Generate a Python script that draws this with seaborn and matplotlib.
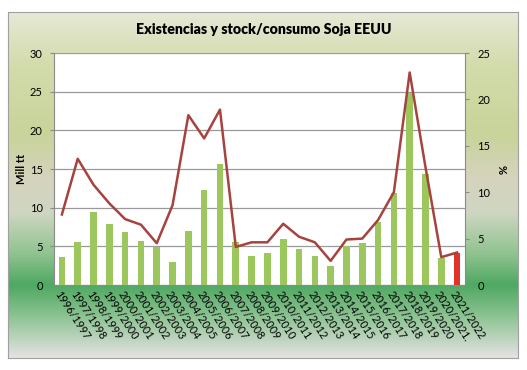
import matplotlib
matplotlib.use("Agg")
import matplotlib.pyplot as plt
from matplotlib.colors import LinearSegmentedColormap
import numpy as np
import pandas as pd
import seaborn as sns

campanas = ["1996/1997", "1997/1998", "1998/1999", "1999/2000", "2000/2001",
            "2001/2002", "2002/2003", "2003/2004", "2004/2005", "2005/2006",
            "2006/2007", "2007/2008", "2008/2009", "2009/2010", "2010/2011",
            "2011/2012", "2012/2013", "2013/2014", "2014/2015", "2015/2016",
            "2016/2017", "2017/2018", "2018/2019", "2019/2020", "2020/2021.",
            "2021/2022"]
existencias = [3.6, 5.5, 9.5, 7.9, 6.8, 5.7, 4.9, 3.0, 7.0, 12.3, 15.7, 5.6, 3.7,
               4.1, 5.9, 4.6, 3.8, 2.5, 5.1, 5.4, 8.2, 11.9, 24.8, 14.4, 3.5, 4.1]
stock_consumo = [7.6, 13.6, 10.8, 8.8, 7.1, 6.5, 4.5, 8.6, 18.3, 15.8, 18.9, 4.1,
                 4.6, 4.6, 6.6, 5.2, 4.6, 2.6, 4.9, 5.0, 7.0, 10.0, 22.9, 12.7,
                 3.0, 3.5]

plt.rcParams["font.family"] = ["Lato", "DejaVu Sans"]

df = pd.DataFrame({"campana": campanas, "existencias": existencias,
                   "ratio": stock_consumo})
colores = ["#9cc75c"] * (len(campanas) - 1) + ["#e0332a"]

fig = plt.figure(figsize=(5.27, 3.70), dpi=100)

# fondo degradado del grafico
bg = fig.add_axes([8 / 527, 1 - 358 / 370, 510 / 527, 346 / 370])
cmap = LinearSegmentedColormap.from_list("fondo", [
    (0.0, "#e6e9d6"), (0.15, "#d3dcac"), (0.35, "#c8d49a"), (0.48, "#d6d3bd"),
    (0.58, "#cfd6c2"), (0.70, "#8fc38f"), (0.79, "#4ea862"), (0.88, "#8cc392"),
    (1.0, "#e4e2e2")])
bg.imshow(np.linspace(0, 1, 256).reshape(-1, 1), aspect="auto", cmap=cmap,
          extent=[0, 1, 0, 1])
bg.set_xticks([])
bg.set_yticks([])
for s in bg.spines.values():
    s.set_color("#a0a0a0")
    s.set_linewidth(0.8)

ax = fig.add_axes([54 / 527, 1 - 285 / 370, 411 / 527, 232 / 370])
ax.set_facecolor("white")
sns.barplot(data=df, x="campana", y="existencias", hue="campana",
            palette=colores, legend=False, width=0.42, saturation=1,
            linewidth=0, ax=ax, zorder=3)
ax.set_ylim(0, 30)
ax.set_xlim(-0.5, len(campanas) - 0.5)
ax.set_yticks(range(0, 31, 5))
ax.yaxis.grid(True, color="#9a9a9a", linewidth=0.9, zorder=0)
ax.set_axisbelow(True)
for s in ["top", "right"]:
    ax.spines[s].set_visible(False)
ax.spines["left"].set_color("#8a8a8a")
ax.spines["bottom"].set_color("#8a8a8a")
ax.tick_params(axis="y", length=3, color="#8a8a8a", labelsize=8, pad=5)
ax.tick_params(axis="x", length=0, labelsize=7.8, pad=3)
ax.set_xticks(range(len(campanas)))
ax.set_xticklabels(campanas, rotation=-57, ha="left", va="top",
                   rotation_mode="anchor")
ax.set_xlabel("")
ax.set_ylabel("Mill tt", fontsize=8, fontweight="bold", labelpad=2)

ax2 = ax.twinx()
sns.lineplot(x=list(range(len(campanas))), y=stock_consumo, color="#a6433e",
             linewidth=1.8, ax=ax2, zorder=4)
ax2.set_ylim(0, 25)
ax2.set_yticks(range(0, 26, 5))
for s in ["top", "left", "bottom"]:
    ax2.spines[s].set_visible(False)
ax2.spines["right"].set_color("#8a8a8a")
ax2.tick_params(axis="y", length=3, color="#8a8a8a", labelsize=8, pad=6)
ax2.set_ylabel("%", fontsize=8, fontweight="bold", labelpad=6)

fig.text(0.5, 1 - 30 / 370, "Existencias y stock/consumo Soja EEUU",
         ha="center", va="center", fontsize=10.2, fontweight="heavy")

fig.savefig("out.png", dpi=100)
